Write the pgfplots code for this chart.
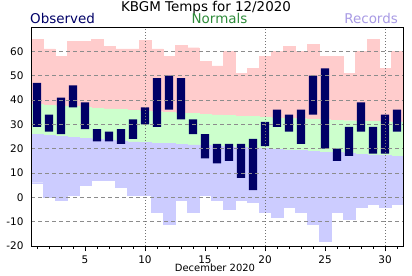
\documentclass[border=0pt]{standalone}
\usepackage{pgfplots}
\pgfplotsset{compat=1.18}
\usepackage{pgfplotstable}
\usepackage{fontspec}
\setmainfont{DejaVu Sans}
\definecolor{rpink}{HTML}{FFCCCC}
\definecolor{ngreen}{HTML}{CCFFCC}
\definecolor{rlav}{HTML}{CCCCFF}
\definecolor{obsnavy}{HTML}{000066}
\definecolor{normtxt}{HTML}{2E8B3A}
\definecolor{rectxt}{HTML}{A89AE4}

\pgfplotstableread{
day rl nl nh rh ol oh
1 6 25.9 38.2 65 29 47
2 0 25.5 37.9 61 27 34
3 -1 25.1 37.6 58 26 41
4 1 24.7 37.3 64 37 46
5 5 24.3 37.0 64 28 39
6 7 23.9 36.7 65 23 28
7 7 23.6 36.4 62 23 27
8 4 23.2 36.1 61 22 28
9 1 22.8 35.8 61 24 32
10 1 22.6 35.5 64.5 30 37
11 -6 22.3 35.2 61 29 49
12 -11 22.1 34.9 58 36 50
13 -1 21.8 34.6 62.5 32 49
14 -6 21.6 34.4 61.5 26 32
15 1 21.3 34.1 56 16 26
16 -1 21.1 33.9 54 14 22
17 -5 20.8 33.6 60 15 22
18 -1 20.6 33.4 51 8 22
19 -2 20.3 33.2 53 3 24
20 -6 20.1 32.9 58 21 31
21 -8 19.8 32.7 60 29 36
22 -4 19.5 32.5 62 27 34
23 -6 19.2 32.3 60 22 36
24 -11 18.9 32.1 63 34 50
25 -18 18.6 31.9 58 20 53
26 -6 18.4 31.7 58 15 20
27 -9 18.1 31.5 51 17 29
28 -4 17.8 31.4 60 27 39
29 -3 17.5 31.2 65 18 29
30 -4 17.2 31.1 53 18 34
31 -3 16.9 31.0 60 27 36
}\temps

\begin{document}
\begin{tikzpicture}
\pgfplotsset{
  common/.style={
    at={(0,0)}, anchor=south west, scale only axis,
    width=372bp, height=219bp,
    xmin=0.5, xmax=31.5,
  }
}
% background bands (drawn in an axis shifted by +20 so that every stacked value is positive)
\begin{axis}[common, ymin=0, ymax=90, hide axis, ybar stacked, bar width=1]
\addplot[draw=none, fill=none] table[x=day, y expr=\thisrow{rl}+20]{\temps};
\addplot[fill=rlav, draw=rlav, line width=0.3pt] table[x=day, y expr=\thisrow{nl}-\thisrow{rl}]{\temps};
\addplot[fill=ngreen, draw=ngreen, line width=0.3pt] table[x=day, y expr=\thisrow{nh}-\thisrow{nl}]{\temps};
\addplot[fill=rpink, draw=rpink, line width=0.3pt] table[x=day, y expr=\thisrow{rh}-\thisrow{nh}]{\temps};
\end{axis}
% observed + frame
\begin{axis}[common, ymin=-20, ymax=70, axis on top, ybar stacked, bar width=0.67,
  xtick={5,10,...,30}, minor xtick={1,...,31},
  ytick={-20,-10,...,60},
  ymajorgrids=true, xmajorgrids=false,
  y grid style={black!45, dash pattern=on 4bp off 3bp},
  extra x ticks={10,20,30}, extra x tick labels={},
  extra x tick style={xmajorgrids=true, x grid style={black!55, dash pattern=on 1bp off 2bp}},
  xtick pos=bottom, ytick pos=left,
  xtick align=outside, ytick style={draw=none},
  major tick length=5bp, minor tick length=3bp,
  tick style={black},
  tick label style={font=\fontsize{10.5}{12}\selectfont},
  yticklabel style={xshift=-4bp},
  xticklabel style={inner sep=1bp, yshift=-3.5bp},
  /pgf/number format/assume math mode=true,
  axis line style={black, line width=0.8pt},
]
\addplot[draw=none, fill=none] table[x=day, y=ol]{\temps};
\addplot[fill=obsnavy, draw=none] table[x=day, y expr=\thisrow{oh}-\thisrow{ol}]{\temps};
\end{axis}
\node[anchor=base, font=\fontsize{13.5}{16}\selectfont] at (175bp,234.3bp) {KBGM Temps for 12/2020};
\node[anchor=base west, inner sep=0pt, font=\fontsize{13.5}{16}\selectfont, text=obsnavy] at (-1bp,222bp) {Observed};
\node[anchor=base, inner sep=0pt, font=\fontsize{13.5}{16}\selectfont, text=normtxt] at (188.5bp,222bp) {Normals};
\node[anchor=base east, inner sep=0pt, font=\fontsize{13.5}{16}\selectfont, text=rectxt] at (367bp,222.5bp) {Records};
\node[anchor=base, inner sep=0pt, font=\fontsize{10}{12}\selectfont] at (184bp,-25.5bp) {December 2020};
\pgfresetboundingbox
\useasboundingbox (-31bp,-30bp) rectangle (381bp,246bp);
\end{tikzpicture}
\end{document}
